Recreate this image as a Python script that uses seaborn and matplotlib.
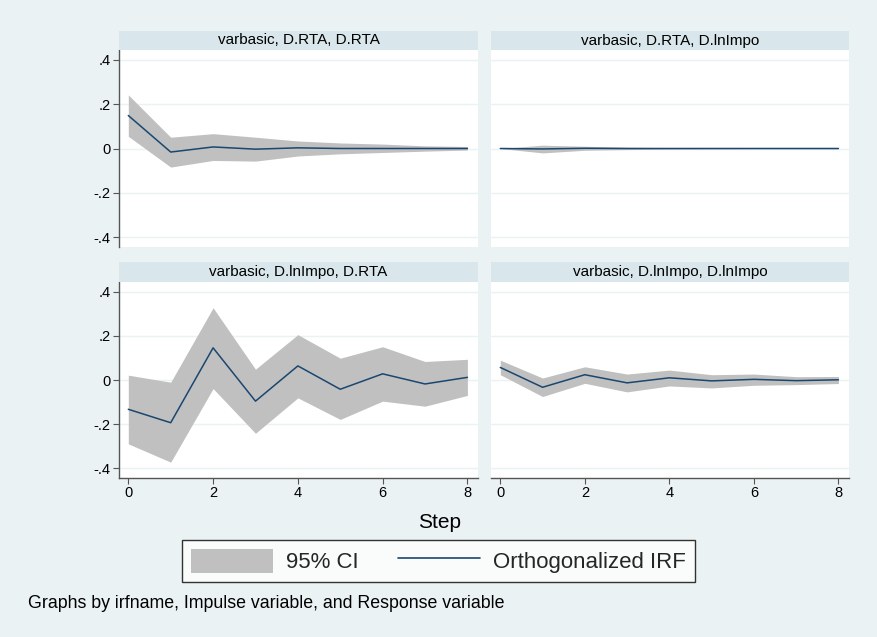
import numpy as np
import pandas as pd
import matplotlib
matplotlib.use("Agg")
import matplotlib.pyplot as plt
from matplotlib.patches import Rectangle, Patch
from matplotlib.lines import Line2D
import seaborn as sns

# ---- data ----
steps = [0, 1, 2, 3, 4, 5, 6, 7, 8]

titles = ["varbasic, D.RTA, D.RTA", "varbasic, D.RTA, D.lnImpo",
          "varbasic, D.lnImpo, D.RTA", "varbasic, D.lnImpo, D.lnImpo"]

irf_rta_rta = [0.149, -0.016, 0.007, -0.003, 0.003, 0.0, 0.0, 0.0, 0.0]
lo_rta_rta = [0.055, -0.084, -0.054, -0.057, -0.034, -0.024, -0.018, -0.012, -0.007]
hi_rta_rta = [0.242, 0.051, 0.067, 0.051, 0.034, 0.025, 0.020, 0.012, 0.009]

irf_rta_imp = [0.0, -0.002, 0.001, 0.0, 0.0, 0.0, 0.0, 0.0, 0.0]
lo_rta_imp = [0.0, -0.020, -0.008, -0.005, -0.003, -0.002, -0.001, -0.001, -0.001]
hi_rta_imp = [0.0, 0.015, 0.010, 0.006, 0.004, 0.002, 0.001, 0.001, 0.001]

irf_imp_rta = [-0.133, -0.194, 0.146, -0.096, 0.064, -0.042, 0.028, -0.018, 0.012]
lo_imp_rta = [-0.290, -0.373, -0.039, -0.242, -0.081, -0.179, -0.096, -0.119, -0.070]
hi_imp_rta = [0.022, -0.010, 0.328, 0.049, 0.206, 0.099, 0.151, 0.084, 0.094]

irf_imp_imp = [0.057, -0.033, 0.024, -0.013, 0.010, -0.004, 0.003, -0.003, 0.001]
lo_imp_imp = [0.024, -0.075, -0.015, -0.054, -0.027, -0.036, -0.024, -0.021, -0.016]
hi_imp_imp = [0.090, 0.009, 0.060, 0.027, 0.045, 0.024, 0.027, 0.015, 0.016]

yticks = [-0.4, -0.2, 0.0, 0.2, 0.4]
ytick_labels = ["-.4", "-.2", "0", ".2", ".4"]
xticks = [0, 2, 4, 6, 8]

series = [(irf_rta_rta, lo_rta_rta, hi_rta_rta),
          (irf_rta_imp, lo_rta_imp, hi_rta_imp),
          (irf_imp_rta, lo_imp_rta, hi_imp_rta),
          (irf_imp_imp, lo_imp_imp, hi_imp_imp)]

frames = []
for t, (irf, lo, hi) in zip(titles, series):
    frames.append(pd.DataFrame({"step": steps, "irf": irf, "lo": lo, "hi": hi, "panel": t}))
df = pd.concat(frames, ignore_index=True)

# ---- style ----
sns.set_theme(style="white")
plt.rcParams["font.family"] = ["Liberation Sans", "DejaVu Sans"]

BG = "#EAF2F3"
STRIP = "#D9E6EB"
CI = "#C0C0C0"
LINE = "#1A476F"
GRID = "#EAF2F3"

W, H = 878, 637
fig = plt.figure(figsize=(W / 100, H / 100), dpi=100, facecolor=BG)

def fx(px):
    return px / W

def fy(py):
    return 1 - py / H

# panel geometry in pixels: (left, right, top_strip, top_plot, bottom_plot)
geo = [(119, 478, 31, 50, 247), (491, 849, 31, 50, 247),
       (119, 478, 262, 282, 478), (491, 849, 262, 282, 478)]

for i, (t, (l, r, ts, tp, bp)) in enumerate(zip(titles, geo)):
    ax = fig.add_axes([fx(l), fy(bp), fx(r - l), (bp - tp) / H])
    ax.set_facecolor("white")
    sub = df[df["panel"] == t]
    ax.fill_between(sub["step"], sub["lo"], sub["hi"], color=CI, linewidth=0, zorder=2)
    sns.lineplot(data=sub, x="step", y="irf", ax=ax, color=LINE, linewidth=1.1, zorder=3)
    ax.set_xlim(-0.22, 8.25)
    ax.set_ylim(-0.445, 0.445)
    ax.set_yticks(yticks)
    ax.set_xticks(xticks)
    for y in yticks:
        ax.axhline(y, color=GRID, linewidth=1.0, zorder=1)
    ax.set_xlabel("")
    ax.set_ylabel("")
    for s in ["top", "right", "left", "bottom"]:
        ax.spines[s].set_visible(False)
    left_col = i in (0, 2)
    bottom_row = i in (2, 3)
    if left_col:
        ax.spines["left"].set_visible(True)
        ax.spines["left"].set_color("#555555")
        ax.spines["left"].set_linewidth(1.0)
        ax.set_yticklabels(ytick_labels)
        ax.tick_params(axis="y", left=True, length=4, width=0.8, color="#555555",
                       labelsize=10.5, pad=2, labelcolor="black")
    else:
        ax.tick_params(axis="y", left=False, labelleft=False)
    if bottom_row:
        ax.spines["bottom"].set_visible(True)
        ax.spines["bottom"].set_color("#555555")
        ax.spines["bottom"].set_linewidth(1.0)
        ax.tick_params(axis="x", bottom=True, length=4, width=0.8, color="#555555",
                       labelsize=10.5, pad=2, labelcolor="black")
    else:
        ax.tick_params(axis="x", bottom=False, labelbottom=False)
    # title strip
    fig.patches.append(Rectangle((fx(l), fy(tp)), fx(r - l), (tp - ts) / H,
                                 transform=fig.transFigure, facecolor=STRIP,
                                 edgecolor="none", zorder=0))
    fig.text(fx((l + r) / 2), fy((ts + tp) / 2), t, ha="center", va="center",
             fontsize=11, color="black")

fig.text(fx(440), fy(522), "Step", ha="center", va="center", fontsize=15, color="black")

handles = [Patch(facecolor=CI, edgecolor="none"),
           Line2D([0], [0], color=LINE, linewidth=1.2)]
leg = fig.legend(handles, ["95% CI", "Orthogonalized IRF"], loc="center",
                 bbox_to_anchor=(fx(438.5), fy(561)), ncol=2, frameon=True,
                 fontsize=16, handlelength=3.7, handleheight=1.35, columnspacing=1.75,
                 handletextpad=0.6, borderpad=0.4, fancybox=False)
leg.get_frame().set_edgecolor("black")
leg.get_frame().set_linewidth(1.0)
leg.get_frame().set_facecolor("white")

fig.text(fx(28), fy(604), "Graphs by irfname, Impulse variable, and Response variable",
         ha="left", va="center", fontsize=12.8, color="black")

fig.savefig("out.png", dpi=100, facecolor=BG)
